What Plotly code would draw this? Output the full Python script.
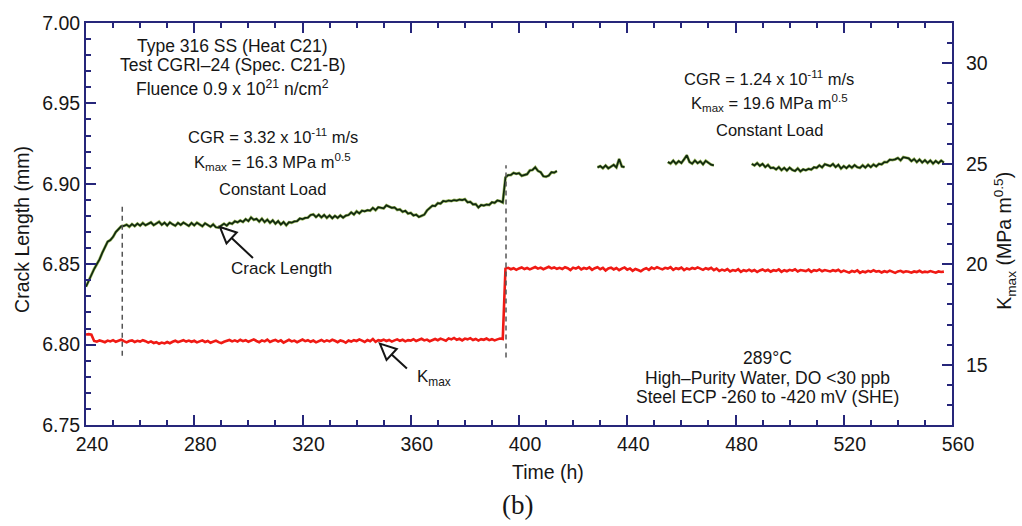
import numpy as np
import plotly.graph_objects as go

# ---------------------------------------------------------------------------
# Crack length (mm), hourly readings. Each segment starts at the hour given
# in cl_start; the record drops out between segments.
# ---------------------------------------------------------------------------
cl_start = [240, 429, 455, 486]

cl_seg1 = [
    6.8360, 6.8400, 6.8440, 6.8470, 6.8500, 6.8530, 6.8570, 6.8610, 6.8640, 6.8650,
    6.8670, 6.8700, 6.8720, 6.8735,
    6.8738, 6.8746, 6.8733, 6.8749, 6.8737, 6.8752, 6.8740, 6.8756, 6.8742, 6.8751,
    6.8760, 6.8743, 6.8755, 6.8764, 6.8745, 6.8758, 6.8741, 6.8760, 6.8748, 6.8739,
    6.8757, 6.8744, 6.8759, 6.8746, 6.8738, 6.8756, 6.8742, 6.8758, 6.8745, 6.8736,
    6.8754, 6.8741, 6.8733, 6.8748, 6.8730, 6.8728, 6.8742, 6.8752, 6.8740, 6.8757,
    6.8751, 6.8767, 6.8760, 6.8772, 6.8763, 6.8780, 6.8768, 6.8791, 6.8776, 6.8782,
    6.8765, 6.8783, 6.8762, 6.8777, 6.8757, 6.8773, 6.8752, 6.8768, 6.8747, 6.8762,
    6.8742, 6.8761, 6.8758, 6.8766, 6.8768, 6.8784, 6.8780, 6.8788, 6.8790, 6.8806,
    6.8810, 6.8793, 6.8808, 6.8791, 6.8806, 6.8788, 6.8803, 6.8786, 6.8801, 6.8788,
    6.8803, 6.8789, 6.8802, 6.8806, 6.8822, 6.8809, 6.8829, 6.8816, 6.8833, 6.8829,
    6.8836, 6.8833, 6.8850, 6.8836, 6.8854, 6.8851, 6.8847, 6.8866, 6.8858, 6.8851,
    6.8853, 6.8838, 6.8841, 6.8826, 6.8832, 6.8815, 6.8819, 6.8803, 6.8808, 6.8794,
    6.8801, 6.8808, 6.8834, 6.8847, 6.8864, 6.8862, 6.8880, 6.8877, 6.8893, 6.8890,
    6.8896, 6.8893, 6.8899, 6.8896, 6.8902, 6.8899, 6.8904, 6.8885, 6.8888, 6.8872,
    6.8874, 6.8853, 6.8868, 6.8865, 6.8871, 6.8869, 6.8885, 6.8881, 6.8896, 6.8892,
    6.8884,
    6.9040, 6.9054, 6.9055, 6.9068, 6.9062, 6.9066, 6.9050, 6.9057, 6.9060, 6.9083,
    6.9086, 6.9103, 6.9080, 6.9072, 6.9047, 6.9044, 6.9051, 6.9072, 6.9069, 6.9079,
]

cl_seg2 = [
    6.9102, 6.9110, 6.9097, 6.9114, 6.9096, 6.9108, 6.9118, 6.9102, 6.9154, 6.9108,
    6.9104,
]

cl_seg3 = [
    6.9136, 6.9126, 6.9144, 6.9124, 6.9141, 6.9129, 6.9152, 6.9178, 6.9136, 6.9125,
    6.9145, 6.9128, 6.9140, 6.9121, 6.9143, 6.9130, 6.9119, 6.9115,
]

cl_seg4 = [
    6.9124, 6.9114, 6.9129, 6.9112, 6.9124, 6.9104, 6.9118, 6.9098, 6.9101, 6.9089,
    6.9104, 6.9085, 6.9099, 6.9083, 6.9100, 6.9086, 6.9080, 6.9096, 6.9077, 6.9090,
    6.9084, 6.9093, 6.9088, 6.9103, 6.9099, 6.9115, 6.9102, 6.9122, 6.9116, 6.9110,
    6.9123, 6.9104, 6.9118, 6.9095, 6.9110, 6.9097, 6.9113, 6.9100, 6.9116, 6.9103,
    6.9099, 6.9115, 6.9101, 6.9118, 6.9104, 6.9120, 6.9108, 6.9124, 6.9121, 6.9135,
    6.9134, 6.9150, 6.9148, 6.9152, 6.9161, 6.9146, 6.9166, 6.9161, 6.9158, 6.9141,
    6.9154, 6.9135, 6.9151, 6.9132, 6.9147, 6.9130, 6.9145, 6.9126, 6.9142, 6.9129,
    6.9144, 6.9132,
]

# ---------------------------------------------------------------------------
# Stress intensity K_max (MPa m^0.5), hourly readings.
# ---------------------------------------------------------------------------
k_start = [240, 395]

k_seg1 = [
    16.50, 16.52, 16.49, 16.18, 16.15, 16.21, 16.17, 16.12, 16.20, 16.16,
    16.22, 16.14, 16.19, 16.24, 16.17, 16.11, 16.18, 16.21, 16.13, 16.19,
    16.15, 16.22, 16.17, 16.10, 16.16, 16.08, 16.12, 16.04, 16.10, 16.06,
    16.13, 16.07, 16.14, 16.19, 16.12, 16.18, 16.22, 16.15, 16.20, 16.14,
    16.19, 16.11, 16.17, 16.21, 16.13, 16.18, 16.09, 16.16, 16.20, 16.12,
    16.07, 16.14, 16.18, 16.23, 16.16, 16.21, 16.15, 16.24, 16.17, 16.22,
    16.14, 16.20, 16.26, 16.18, 16.12, 16.21, 16.16, 16.25, 16.13, 16.19,
    16.23, 16.15, 16.21, 16.10, 16.18, 16.24, 16.16, 16.20, 16.12, 16.19,
    16.25, 16.17, 16.22, 16.14, 16.20, 16.11, 16.18, 16.23, 16.15, 16.21,
    16.16, 16.24, 16.19, 16.12, 16.21, 16.17, 16.09, 16.20, 16.15, 16.22,
    16.18, 16.26, 16.20, 16.13, 16.23, 16.17, 16.28, 16.14, 16.22, 16.19,
    16.25, 16.18, 16.23, 16.15, 16.21, 16.26, 16.19, 16.24, 16.16, 16.22,
    16.20, 16.27, 16.18, 16.23, 16.29, 16.21, 16.25, 16.17, 16.24, 16.28,
    16.22, 16.30, 16.25, 16.19, 16.31, 16.26, 16.33, 16.24, 16.29, 16.21,
    16.30, 16.26, 16.32, 16.23, 16.28, 16.20, 16.27, 16.24, 16.30, 16.22,
    16.27, 16.21, 16.26, 16.30, 16.28,
]

k_seg2 = [
    19.78, 19.82, 19.75, 19.80, 19.72, 19.79, 19.84, 19.76, 19.81, 19.74,
    19.80, 19.86, 19.78, 19.83, 19.75, 19.81, 19.87, 19.79, 19.84, 19.77,
    19.82, 19.76, 19.85, 19.80, 19.71, 19.83, 19.78, 19.86, 19.74, 19.81,
    19.77, 19.84, 19.72, 19.80, 19.85, 19.75, 19.82, 19.69, 19.79, 19.83,
    19.74, 19.81, 19.70, 19.78, 19.84, 19.73, 19.79, 19.67, 19.76, 19.71,
    19.65, 19.74, 19.80, 19.72, 19.83, 19.77, 19.85, 19.79, 19.74, 19.82,
    19.78, 19.85, 19.72, 19.80, 19.76, 19.83, 19.71, 19.79, 19.74, 19.81,
    19.77, 19.84, 19.79, 19.72, 19.80, 19.75, 19.82, 19.70, 19.78, 19.66,
    19.73, 19.68, 19.76, 19.64, 19.71, 19.67, 19.75, 19.62, 19.70, 19.66,
    19.73, 19.65, 19.71, 19.61, 19.69, 19.74, 19.66, 19.72, 19.63, 19.70,
    19.67, 19.74, 19.62, 19.70, 19.65, 19.72, 19.68, 19.75, 19.64, 19.71,
    19.69, 19.66, 19.73, 19.62, 19.70, 19.67, 19.74, 19.65, 19.71, 19.68,
    19.64, 19.70, 19.66, 19.72, 19.61, 19.68, 19.63, 19.58, 19.66, 19.62,
    19.69, 19.57, 19.64, 19.60, 19.67, 19.62, 19.70, 19.63, 19.66, 19.59,
    19.65, 19.61, 19.68, 19.63, 19.57, 19.64, 19.67, 19.60, 19.65, 19.62,
    19.58, 19.64, 19.61, 19.67, 19.59, 19.63, 19.60, 19.66, 19.62, 19.58,
    19.64, 19.61, 19.63,
]

# Load changes (h) and the span of crack length (mm) marked at each one
load_change_t = [253.4, 395.2]
load_change_lo = [6.793, 6.792]
load_change_hi = [6.887, 6.9115]

# Axis ticks
x_ticks = [240, 280, 320, 360, 400, 440, 480, 520, 560]
cl_ticks = [6.75, 6.80, 6.85, 6.90, 6.95, 7.00]
cl_tick_text = ["6.75", "6.80", "6.85", "6.90", "6.95", "7.00"]
k_ticks = [15, 20, 25, 30]

# Points the pointer arrows touch: (time, value)
cl_pointer = (289.5, 6.8731)
k_pointer = (348.6, 16.05)


def join_segments(starts, segments):
    """Concatenate hourly segments, breaking the line between them."""
    xs, ys = [], []
    for s, seg in zip(starts, segments):
        if xs:
            xs.append(None)
            ys.append(None)
        xs.extend(np.arange(s, s + len(seg)).tolist())
        ys.extend(seg)
    return xs, ys


cl_t, cl_v = join_segments(cl_start, [cl_seg1, cl_seg2, cl_seg3, cl_seg4])
k_t = np.arange(k_start[0], k_start[0] + len(k_seg1)).tolist() + \
      np.arange(k_start[1], k_start[1] + len(k_seg2)).tolist()
k_v = k_seg1 + k_seg2

AXIS = "#26267a"
TXT = "#161616"
FONT = "Liberation Sans, Arial, sans-serif"

fig = go.Figure()

# K_max record
fig.add_trace(go.Scatter(
    x=k_t, y=k_v, yaxis="y2", mode="lines",
    line=dict(color="#f01a14", width=2.6), hoverinfo="skip"))

# Crack length record: thin olive halo under a dark core
fig.add_trace(go.Scatter(
    x=cl_t, y=cl_v, mode="lines", connectgaps=False,
    line=dict(color="#9cb860", width=2.9), hoverinfo="skip"))
fig.add_trace(go.Scatter(
    x=cl_t, y=cl_v, mode="lines", connectgaps=False,
    line=dict(color="#10280f", width=1.7), hoverinfo="skip"))

shapes = []
for t, lo, hi in zip(load_change_t, load_change_lo, load_change_hi):
    shapes.append(dict(type="line", xref="x", yref="y", x0=t, x1=t, y0=lo, y1=hi,
                       line=dict(color="#555555", width=1.5, dash="5px,4px")))


def open_arrow(tip, yref, dx, dy, head_len=16.0, head_half=7.5):
    """Hollow-headed pointer; (dx, dy) is the tail offset from the tip in px."""
    n = (dx * dx + dy * dy) ** 0.5
    ux, uy = dx / n, dy / n
    bx, by = ux * head_len, uy * head_len
    px, py = -uy * head_half, ux * head_half
    path = (f"M 0,0 L {bx + px:.2f},{by + py:.2f} L {bx - px:.2f},{by - py:.2f} Z "
            f"M {bx:.2f},{by:.2f} L {dx:.2f},{dy:.2f}")
    return dict(type="path", xref="x", yref=yref,
                xsizemode="pixel", ysizemode="pixel",
                xanchor=tip[0], yanchor=tip[1], path=path,
                line=dict(color="#151515", width=2))


shapes.append(open_arrow(cl_pointer, "y", 33, -31))
shapes.append(open_arrow(k_pointer, "y2", 27, -25))


def note(text, x, y, size=17, xanchor="center", angle=0, family=FONT):
    return dict(text=text, x=x, y=y, xref="paper", yref="paper",
                xanchor=xanchor, yanchor="middle", showarrow=False,
                textangle=angle, font=dict(family=family, size=size, color=TXT))


annotations = [
    note("Type 316 SS (Heat C21)", 0.1697, 0.943, 17.5),
    note("Test CGRI\u201324 (Spec. C21-B)", 0.1697, 0.896, 17.5),
    note("Fluence 0.9 x 10<sup>21</sup> n/cm<sup>2</sup>", 0.1697, 0.838, 17.5),
    note("CGR = 3.32 x 10<sup>-11</sup> m/s", 0.2159, 0.720, 16.5),
    note("K<sub>max</sub> = 16.3 MPa m<sup>0.5</sup>", 0.2159, 0.654, 16.5),
    note("Constant Load", 0.2159, 0.586, 16.5),
    note("CGR = 1.24 x 10<sup>-11</sup> m/s", 0.7887, 0.864, 16.5),
    note("K<sub>max</sub> = 19.6 MPa m<sup>0.5</sup>", 0.7887, 0.800, 16.5),
    note("Constant Load", 0.7887, 0.733, 16.5),
    note("289\u00b0C", 0.7864, 0.1667, 17.5),
    note("High\u2013Purity Water, DO &lt;30 ppb", 0.7864, 0.1176, 17.5),
    note("Steel ECP -260 to -420 mV (SHE)", 0.7864, 0.0686, 17.5),
    note("Crack Length", 0.2263, 0.3895, 17),
    note("K<sub>max</sub>", 0.3799, 0.116, 17, xanchor="left"),
    # axis titles
    note("Crack Length (mm)", -0.0739, 0.4853, 19.5, angle=-90),
    note("K<sub>max</sub> (MPa m<sup>0.5</sup>)", 1.0612, 0.4583, 19.5, angle=-90),
    note("Time (h)", 0.5335, -0.1176, 19.5),
    note("(b)", 0.4977, -0.1985, 27, family="Liberation Serif, Times New Roman, serif"),
]

tickfont = dict(family=FONT, size=19.5, color=TXT)

fig.update_layout(
    width=1022, height=526,
    margin=dict(l=86, r=70, t=17, b=101),
    paper_bgcolor="white", plot_bgcolor="white",
    showlegend=False,
    shapes=shapes,
    annotations=annotations,
    xaxis=dict(
        range=[240, 560], tickmode="array", tickvals=x_ticks,
        ticks="inside", ticklen=10, tickwidth=1.5, tickcolor=AXIS,
        minor=dict(tickmode="linear", tick0=240, dtick=10, ticks="inside",
                   ticklen=5, tickwidth=1.5, tickcolor=AXIS),
        showline=True, linecolor=AXIS, linewidth=2, mirror="ticks",
        showgrid=False, zeroline=False, tickfont=tickfont,
        ticklabelshift=6, ticklabelstandoff=1,
    ),
    yaxis=dict(
        range=[6.75, 7.00], tickmode="array", tickvals=cl_ticks, ticktext=cl_tick_text,
        ticks="inside", ticklen=10, tickwidth=1.5, tickcolor=AXIS,
        minor=dict(tickmode="linear", tick0=6.75, dtick=0.01, ticks="inside",
                   ticklen=5, tickwidth=1.5, tickcolor=AXIS),
        showline=True, linecolor=AXIS, linewidth=2, mirror=False,
        showgrid=False, zeroline=False, tickfont=tickfont,
    ),
    yaxis2=dict(
        range=[12, 32], overlaying="y", side="right",
        tickmode="array", tickvals=k_ticks,
        ticks="inside", ticklen=10, tickwidth=1.5, tickcolor=AXIS,
        minor=dict(tickmode="linear", tick0=12, dtick=1, ticks="inside",
                   ticklen=5, tickwidth=1.5, tickcolor=AXIS),
        showline=True, linecolor=AXIS, linewidth=2,
        showgrid=False, zeroline=False, tickfont=tickfont,
        ticklabelstandoff=8,
    ),
)

fig.write_html("out.html")
